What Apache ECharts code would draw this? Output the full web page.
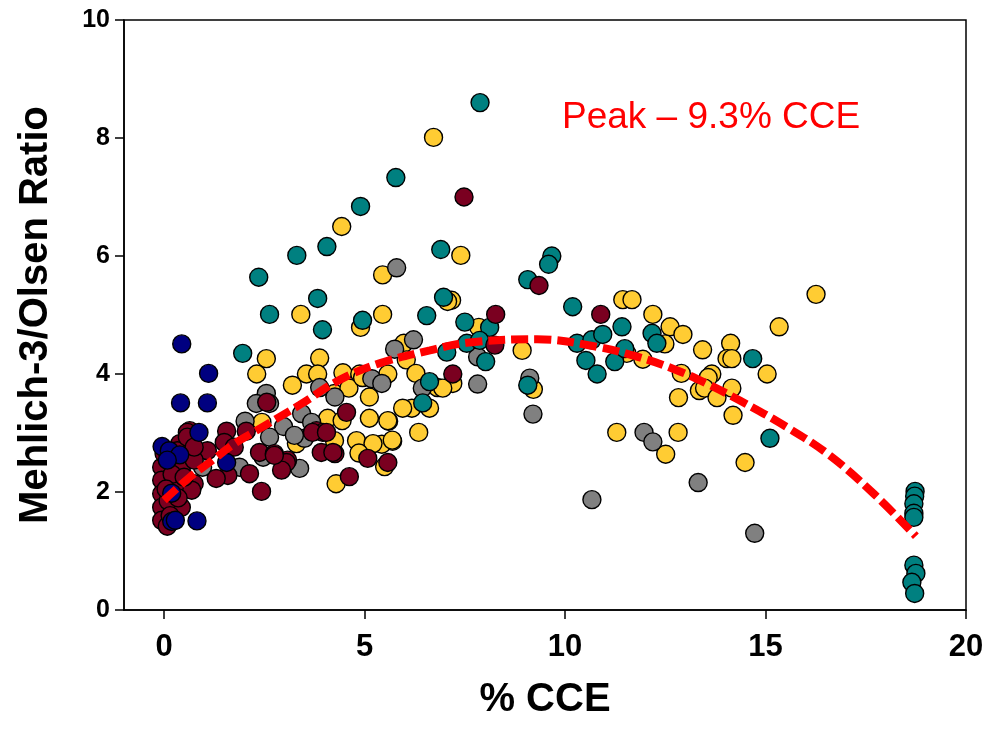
<!DOCTYPE html>
<html>
<head>
<meta charset="utf-8">
<script src="https://cdn.jsdelivr.net/npm/echarts@6/dist/echarts.min.js"></script>
<style>html,body{margin:0;padding:0;background:#fff}#c{width:989px;height:729px}</style>
</head>
<body>
<div id="c"></div>
<script>
// ---- data ----
var xTicks = [0, 5, 10, 15, 20];
var yTicks = [0, 2, 4, 6, 8, 10];

var yellowPts = [[6.72,8.01],[4.43,6.5],[7.4,6.01],[5.45,5.68],[7.17,5.25],[7.07,5.23],[5.45,5.01],[3.41,5.01],[4.9,4.79],[11.44,5.26],[11.67,5.26],[12.19,5.01],[12.62,4.8],[7.85,4.79],[8.93,4.4],[5.98,4.52],[6.04,4.24],[5.58,4.0],[6.28,4.01],[6.82,3.77],[7.2,3.84],[6.95,3.76],[6.62,3.42],[6.18,3.42],[5.95,3.42],[5.6,3.2],[6.35,3.01],[5.7,2.86],[5.43,2.81],[5.5,2.43],[9.21,3.74],[12.49,4.51],[11.94,4.25],[11.29,3.01],[12.51,2.64],[12.82,3.01],[12.83,3.6],[12.9,4.01],[12.94,4.67],[13.43,4.41],[14.13,4.52],[14.04,4.26],[14.16,4.26],[13.66,4.0],[13.57,3.94],[13.35,3.72],[13.48,3.76],[13.79,3.6],[14.16,3.76],[14.19,3.3],[15.04,4.0],[15.34,4.8],[16.26,5.35],[14.49,2.5],[2.55,4.26],[2.31,4.0],[3.88,4.27],[3.55,4.0],[3.83,4.0],[4.46,4.02],[4.88,4.0],[3.2,3.81],[4.25,3.67],[4.61,3.76],[5.12,3.61],[4.95,3.94],[4.08,3.25],[4.44,3.21],[5.12,3.25],[5.58,3.21],[3.3,2.82],[4.25,2.87],[4.8,2.87],[5.21,2.82],[5.69,2.88],[4.86,2.66],[4.29,2.14],[2.44,3.18],[11.54,4.35]];

var grayPts = [[5.8,5.8],[6.22,4.58],[5.75,4.42],[5.18,3.92],[5.43,3.84],[3.88,3.77],[4.26,3.61],[3.43,3.33],[3.68,3.18],[2.98,3.11],[6.44,3.76],[3.38,2.4],[3.5,2.91],[2.55,3.67],[2.3,3.5],[2.63,3.5],[2.02,3.2],[2.63,2.93],[3.25,2.96],[2.47,2.59],[1.88,2.42],[0.96,2.42],[7.82,4.29],[7.82,3.83],[9.12,3.93],[9.2,3.32],[10.67,1.87],[11.97,3.01],[12.19,2.85],[13.32,2.16],[14.73,1.3]];

var tealPts = [[7.88,8.6],[5.78,7.33],[4.9,6.84],[4.06,6.16],[3.31,6.01],[2.36,5.64],[6.9,6.11],[3.83,5.28],[3.95,4.75],[4.95,4.91],[6.55,4.99],[6.97,5.3],[7.05,4.37],[6.62,3.87],[6.45,3.51],[1.96,4.35],[2.63,5.01],[9.67,6.0],[9.59,5.86],[9.07,5.6],[7.5,4.88],[8.12,4.79],[7.55,4.52],[7.87,4.57],[8.02,4.21],[10.19,5.14],[10.3,4.52],[10.52,4.23],[10.8,4.0],[10.67,4.58],[10.94,4.67],[11.42,4.8],[11.24,4.21],[11.49,4.43],[9.07,3.81],[12.17,4.69],[12.29,4.52],[14.68,4.26],[15.11,2.91],[18.73,2.01],[18.72,1.93],[18.7,1.8],[18.7,1.64],[18.7,1.57],[18.7,0.76],[18.75,0.62],[18.65,0.47],[18.72,0.28]];

var maroonPts = [[7.48,7.0],[9.35,5.5],[8.27,5.01],[10.89,5.01],[8.25,4.49],[7.2,4.0],[5.58,2.5],[4.55,3.35],[3.8,3.04],[3.96,3.01],[3.92,2.67],[4.26,2.65],[5.08,2.57],[3.08,2.54],[4.62,2.26],[2.43,2.01],[3.05,2.5],[2.93,2.37],[2.13,2.31],[1.59,2.28],[1.3,2.23],[2.38,2.67],[2.75,2.65],[4.21,2.67],[3.7,3.01],[4.05,3.01],[1.56,3.03],[0.64,3.04],[0.43,2.82],[2.56,3.52],[0.58,3.01],[2.05,3.03],[0.39,2.82],[0.75,2.74],[1.08,2.7],[1.5,2.84],[1.75,2.76],[2.75,2.62],[-0.06,2.42],[-0.06,2.2],[-0.06,1.97],[-0.06,1.74],[-0.06,1.52],[0.08,1.42],[0.26,1.52],[0.0,2.65],[0.43,1.74],[0.43,2.37],[0.33,2.08],[0.75,2.14],[0.69,2.03],[0.75,2.54],[0.33,2.7],[0.58,2.93],[0.75,2.76],[0.1,1.85],[0.2,2.3],[0.15,1.6],[0.35,1.9],[0.5,2.25],[0.05,2.05]];

var navyPts = [[0.44,4.51],[1.11,4.01],[0.41,3.51],[1.08,3.51],[0.87,3.01],[-0.05,2.77],[0.13,2.7],[0.39,2.63],[0.08,2.54],[1.56,2.5],[0.19,1.98],[0.19,1.5],[0.28,1.52],[0.82,1.51]];

var curveX = [0, 0.64, 1.21, 1.71, 2.2, 3.39, 4.38, 5.37, 6.63, 7.55, 9.3, 10.8, 11.87, 12.8, 13.53, 14.36, 15.53, 16.6, 17.7, 18.75];
var curveY = [1.86, 2.25, 2.54, 2.8, 3.0, 3.48, 3.9, 4.18, 4.4, 4.53, 4.59, 4.46, 4.28, 4.06, 3.84, 3.55, 3.1, 2.62, 1.97, 1.25];

var peakLabel = 'Peak \u2013 9.3% CCE';
// --------------------------------------

var chart = echarts.init(document.getElementById('c'), null, {renderer: 'canvas'});

function scatter(name, pts, color, z) {
  return {
    name: name, type: 'scatter', data: pts, symbol: 'circle', symbolSize: 18, z: z,
    itemStyle: {color: color, borderColor: '#000', borderWidth: 1.4, opacity: 1},
    emphasis: {disabled: true}, animation: false
  };
}

var curve = curveX.map(function (x, i) { return [x, curveY[i]]; });

chart.setOption({
  animation: false,
  backgroundColor: '#fff',
  grid: {left: 124, right: 23, top: 20, bottom: 119, show: true, borderColor: '#000', borderWidth: 1.5, containLabel: false},
  xAxis: {
    type: 'value', min: -1, max: 20,
    name: '% CCE', nameLocation: 'middle', nameGap: 70,
    nameTextStyle: {fontFamily: 'Liberation Sans, Arial', fontWeight: 'bold', fontSize: 40, color: '#000'},
    axisLine: {show: true, onZero: false, lineStyle: {color: '#000', width: 1.5}},
    axisTick: {show: true, inside: false, length: 9, customValues: xTicks, lineStyle: {color: '#000', width: 1.5}},
    axisLabel: {customValues: xTicks, margin: 22, fontFamily: 'Liberation Sans, Arial', fontWeight: 'bold', fontSize: 31, color: '#000'},
    splitLine: {show: false}
  },
  yAxis: {
    type: 'value', min: 0, max: 10, interval: 2,
    name: 'Mehlich-3/Olsen Ratio', nameLocation: 'middle', nameGap: 68,
    nameTextStyle: {fontFamily: 'Liberation Sans, Arial', fontWeight: 'bold', fontSize: 40, color: '#000'},
    axisLine: {show: true, onZero: false, lineStyle: {color: '#000', width: 1.5}},
    axisTick: {show: true, inside: false, length: 9, lineStyle: {color: '#000', width: 1.5}},
    axisLabel: {margin: 14, fontFamily: 'Liberation Sans, Arial', fontWeight: 'bold', fontSize: 25, color: '#000',
      formatter: function (v) { return yTicks.indexOf(v) >= 0 ? String(v) : ''; }},
    splitLine: {show: false}
  },
  series: [
    scatter('yellow', yellowPts, '#FFCC33', 2),
    scatter('gray', grayPts, '#808080', 3),
    scatter('teal', tealPts, '#008080', 4),
    scatter('maroon', maroonPts, '#7A0020', 5),
    scatter('navy', navyPts, '#000080', 6),
    {
      type: 'line', data: curve, smooth: 0.4, symbol: 'none', z: 10,
      lineStyle: {color: '#FF0000', width: 8, type: [17, 6], cap: 'butt'},
      emphasis: {disabled: true}, animation: false
    }
  ],
  graphic: [{
    type: 'text', left: 562, top: 99, z: 100,
    style: {text: peakLabel, fill: '#FF0000', fontFamily: 'Liberation Sans, Arial', fontSize: 37}
  }]
});
</script>
</body>
</html>
